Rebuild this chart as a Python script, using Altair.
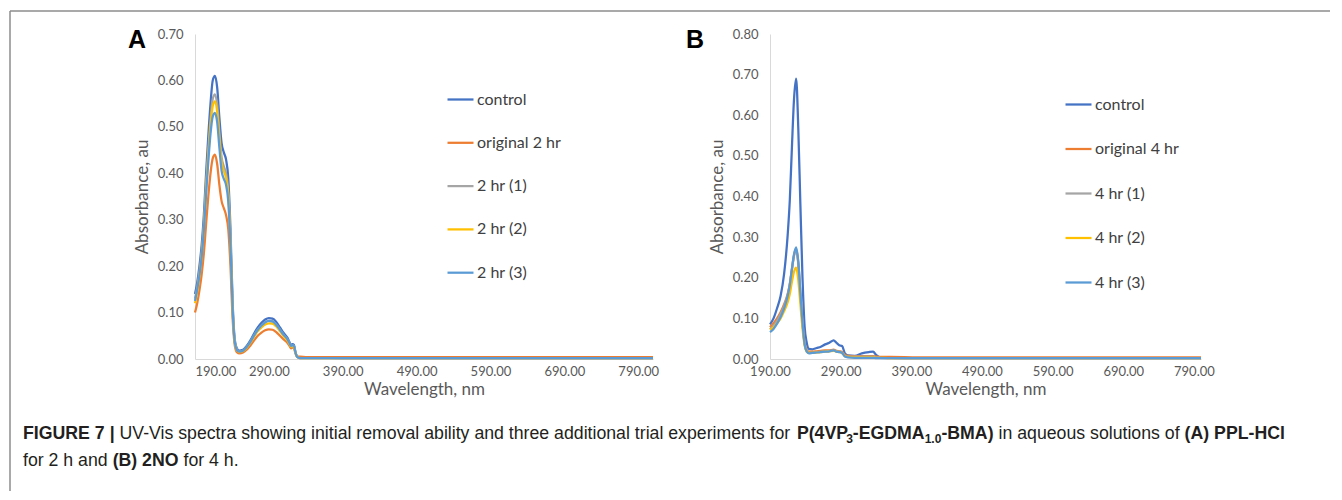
import altair as alt
import pandas as pd

FONT = "Lato"
CAP_FONT = "Liberation Sans"
COLORS = ["#4472C4", "#ED7D31", "#A5A5A5", "#FFC000", "#5B9BD5"]
X_TICKS = [190, 290, 390, 490, 590, 690, 790]

# ---------------- Panel A (PPL-HCl, 2 h) ----------------
NAMES_A = ["control", "original 2 hr", "2 hr (1)", "2 hr (2)", "2 hr (3)"]
WL_A = [190, 193, 196, 199, 202, 205, 208, 211, 214, 217, 220, 223, 226, 229, 232, 235, 238, 241, 244, 247, 250,
        255, 260, 265, 270, 275, 280, 285, 290, 295, 300, 305, 310, 315,
        318, 320, 322, 324, 326, 328, 332, 340,
        400, 500, 600, 700, 810]
A_CONTROL = [0.140, 0.165, 0.200, 0.245, 0.310, 0.400, 0.480, 0.550, 0.600, 0.610, 0.585, 0.520, 0.465, 0.445, 0.430, 0.390, 0.280, 0.120, 0.040, 0.022, 0.018,
             0.020, 0.028, 0.040, 0.055, 0.068, 0.078, 0.085, 0.088, 0.087, 0.080, 0.068, 0.056, 0.046,
             0.036, 0.030, 0.032, 0.030, 0.015, 0.006, 0.003, 0.003,
             0.002, 0.002, 0.002, 0.002, 0.002]
A_ORIG = [0.100, 0.120, 0.148, 0.182, 0.228, 0.290, 0.350, 0.400, 0.432, 0.440, 0.420, 0.375, 0.340, 0.325, 0.310, 0.280, 0.200, 0.085, 0.028, 0.014, 0.012,
          0.014, 0.020, 0.029, 0.040, 0.050, 0.057, 0.062, 0.064, 0.063, 0.058, 0.050, 0.042, 0.035,
          0.028, 0.023, 0.025, 0.023, 0.012, 0.006, 0.005, 0.004,
          0.004, 0.004, 0.004, 0.004, 0.004]
A_T1 = [0.130, 0.155, 0.188, 0.230, 0.290, 0.375, 0.450, 0.515, 0.560, 0.570, 0.548, 0.488, 0.435, 0.415, 0.400, 0.362, 0.260, 0.110, 0.036, 0.020, 0.016,
        0.018, 0.026, 0.037, 0.051, 0.063, 0.072, 0.079, 0.082, 0.081, 0.074, 0.063, 0.052, 0.043,
        0.034, 0.028, 0.030, 0.028, 0.014, 0.005, 0.002, 0.002,
        0.002, 0.002, 0.002, 0.002, 0.002]
A_T2 = [0.120, 0.145, 0.178, 0.220, 0.280, 0.365, 0.438, 0.502, 0.545, 0.555, 0.533, 0.475, 0.423, 0.405, 0.390, 0.353, 0.252, 0.105, 0.034, 0.018, 0.015,
        0.017, 0.024, 0.035, 0.048, 0.060, 0.068, 0.074, 0.077, 0.076, 0.070, 0.060, 0.049, 0.040,
        0.032, 0.026, 0.028, 0.026, 0.013, 0.005, 0.002, 0.002,
        0.002, 0.002, 0.002, 0.002, 0.002]
A_T3 = [0.125, 0.150, 0.180, 0.220, 0.278, 0.355, 0.425, 0.485, 0.522, 0.530, 0.510, 0.455, 0.405, 0.388, 0.375, 0.340, 0.245, 0.105, 0.035, 0.019, 0.016,
        0.018, 0.026, 0.037, 0.051, 0.063, 0.072, 0.079, 0.082, 0.081, 0.074, 0.063, 0.052, 0.043,
        0.034, 0.028, 0.030, 0.028, 0.014, 0.005, 0.002, 0.002,
        0.002, 0.002, 0.002, 0.002, 0.002]

# ---------------- Panel B (2NO, 4 h) ----------------
NAMES_B = ["control", "original 4 hr", "4 hr (1)", "4 hr (2)", "4 hr (3)"]
WL_B = [190, 195, 200, 205, 210, 215, 218, 221, 224, 227, 230, 233, 236, 239, 242, 245,
        250, 256, 262, 268, 274, 280, 284, 288, 292, 296, 300,
        310, 320, 330, 336, 340, 346, 360,
        400, 500, 600, 700, 800]
B_CONTROL = [0.085, 0.100, 0.125, 0.155, 0.210, 0.305, 0.390, 0.520, 0.640, 0.690, 0.570, 0.380, 0.200, 0.080, 0.040, 0.025,
             0.024, 0.027, 0.030, 0.036, 0.040, 0.046, 0.040, 0.034, 0.032, 0.014, 0.009,
             0.008, 0.014, 0.017, 0.018, 0.010, 0.004, 0.003,
             0.002, 0.002, 0.002, 0.002, 0.002]
B_ORIG = [0.078, 0.088, 0.100, 0.115, 0.135, 0.160, 0.185, 0.220, 0.255, 0.270, 0.235, 0.160, 0.090, 0.040, 0.022, 0.018,
          0.018, 0.019, 0.020, 0.021, 0.021, 0.023, 0.020, 0.019, 0.017, 0.010, 0.008,
          0.007, 0.007, 0.007, 0.007, 0.006, 0.005, 0.005,
          0.004, 0.004, 0.004, 0.004, 0.004]
B_T1 = [0.073, 0.082, 0.094, 0.110, 0.130, 0.158, 0.183, 0.220, 0.255, 0.272, 0.238, 0.162, 0.090, 0.038, 0.020, 0.016,
        0.016, 0.017, 0.018, 0.019, 0.020, 0.022, 0.019, 0.018, 0.016, 0.008, 0.006,
        0.006, 0.006, 0.006, 0.006, 0.004, 0.003, 0.002,
        0.002, 0.002, 0.002, 0.002, 0.002]
B_T2 = [0.072, 0.078, 0.088, 0.100, 0.118, 0.140, 0.160, 0.190, 0.215, 0.225, 0.195, 0.135, 0.075, 0.033, 0.018, 0.015,
        0.015, 0.016, 0.017, 0.018, 0.019, 0.020, 0.018, 0.017, 0.015, 0.007, 0.005,
        0.004, 0.004, 0.004, 0.004, 0.003, 0.003, 0.002,
        0.002, 0.002, 0.002, 0.002, 0.002]
B_T3 = [0.066, 0.074, 0.087, 0.103, 0.125, 0.155, 0.182, 0.222, 0.258, 0.275, 0.240, 0.163, 0.090, 0.036, 0.018, 0.014,
        0.015, 0.016, 0.017, 0.018, 0.019, 0.021, 0.018, 0.017, 0.015, 0.006, 0.004,
        0.003, 0.003, 0.003, 0.003, 0.002, 0.002, 0.002,
        0.002, 0.002, 0.002, 0.002, 0.002]

# ---------------- Caption pieces ----------------
CAP_LINE1 = [("FIGURE 7", "bold", False, " "), ("|", "bold", False, " "),
             ("UV-Vis spectra showing initial removal ability and three additional trial experiments for", "normal", False, " "),
             ("P(4VP", "bold", False, ""), ("3", "bold", True, ""), ("-EGDMA", "bold", False, ""),
             ("1.0", "bold", True, ""), ("-BMA)", "bold", False, " "),
             ("in aqueous solutions of", "normal", False, " "), ("(A) PPL-HCl", "bold", False, "")]
CAP_LINE2 = [("for 2 h and", "normal", False, " "), ("(B) 2NO", "bold", False, " "), ("for 4 h.", "normal", False, "")]

# Arial / Liberation Sans advance widths (1/1000 em), used only to lay the caption text out
W_REG = {" ": 278, "-": 333, ".": 278, "(": 333, ")": 333, "|": 260, "U": 722, "V": 667, "A": 667, "B": 667,
         "a": 556, "b": 556, "c": 500, "d": 556, "e": 556, "f": 278, "g": 556, "h": 556, "i": 222, "l": 222,
         "m": 833, "n": 556, "o": 556, "p": 556, "q": 556, "r": 333, "s": 500, "t": 278, "u": 556, "v": 500,
         "w": 722, "x": 500, "y": 500}
W_BOLD = {" ": 278, "-": 333, ".": 278, "(": 333, ")": 333, "|": 280, "A": 722, "B": 722, "C": 722, "D": 722,
          "E": 667, "F": 611, "G": 778, "H": 722, "I": 278, "L": 611, "M": 833, "N": 722, "O": 778, "P": 667,
          "R": 722, "U": 722, "l": 278}


def text_w(s, weight, size):
    table = W_BOLD if weight == "bold" else W_REG
    return sum(table.get(c, 556) for c in s) * size / 1000.0


def layout_caption(pieces, size, x0, y0):
    rows, x = [], x0
    for txt, weight, sub, after in pieces:
        fs = size * 0.68 if sub else size
        rows.append({"t": txt, "x": x, "y": y0 + (4 if sub else 0), "w": weight, "fs": fs})
        x += text_w(txt, weight, fs) + text_w(after, weight, size)
    return rows, x - x0


def long_df(wl, names, series):
    rows = []
    for k, (name, vals) in enumerate(zip(names, series)):
        for w, v in zip(wl, vals):
            rows.append({"series": name, "k": k, "wl": w, "abs": v})
    return pd.DataFrame(rows)


def axis_x(flush):
    return alt.Axis(values=X_TICKS, format=".2f", title="Wavelength, nm", labelPadding=6, titlePadding=3,
                    labelFlush=flush)


def axis_y(ymax):
    vals = [round(i * 0.1, 1) for i in range(int(round(ymax * 10)) + 1)]
    return alt.Axis(values=vals, format=".2f", title="Absorbance, au", labelPadding=12, titlePadding=6)


def panel(df, names, ymax, xmax, width, lx, ly, rowpad, flush):
    return alt.Chart(df).mark_line(strokeWidth=2.25, interpolate="monotone").encode(
        x=alt.X("wl:Q", scale=alt.Scale(domain=[190, xmax], nice=False, zero=False), axis=axis_x(flush)),
        y=alt.Y("abs:Q", scale=alt.Scale(domain=[0, ymax], nice=False), axis=axis_y(ymax)),
        color=alt.Color("series:N", scale=alt.Scale(domain=names, range=COLORS), sort=names,
                        legend=alt.Legend(title=None, orient="none", legendX=lx, legendY=ly,
                                          symbolType="stroke", symbolSize=676, symbolStrokeWidth=2.25,
                                          labelFont=FONT, labelFontSize=16, labelColor="#404040",
                                          rowPadding=rowpad, labelOffset=2, padding=0)),
        detail="k:Q",
    ).properties(width=width, height=325)


def letter(ch, x, y):
    return alt.Chart(pd.DataFrame({"t": [ch]})).mark_text(
        font=CAP_FONT, fontWeight="bold", fontSize=25, align="left", baseline="alphabetic", color="#000000"
    ).encode(text="t:N", x=alt.value(x), y=alt.value(y))


df_a = long_df(WL_A, NAMES_A, [A_CONTROL, A_ORIG, A_T1, A_T2, A_T3])
df_b = long_df(WL_B, NAMES_B, [B_CONTROL, B_ORIG, B_T1, B_T2, B_T3])

# caption layout (relative to panel A plot origin)
_, raw_w = layout_caption(CAP_LINE1, 1000, 0, 0)
CAP_SIZE = 1262.0 / raw_w * 1000
rows1, _ = layout_caption(CAP_LINE1, CAP_SIZE, -172, 405)
rows2, _ = layout_caption(CAP_LINE2, CAP_SIZE, -172, 432)
cap_df = pd.DataFrame(rows1 + rows2)

caption_layers = []
for weight in ["normal", "bold"]:
    for fs in sorted(cap_df["fs"].unique()):
        sub = cap_df[(cap_df["w"] == weight) & (cap_df["fs"] == fs)]
        if len(sub) == 0:
            continue
        caption_layers.append(
            alt.Chart(sub).mark_text(font=CAP_FONT, fontWeight=weight, fontSize=float(fs), align="left",
                                     baseline="alphabetic", color="#231F20")
            .encode(text="t:N", x=alt.X("x:Q", scale=None), y=alt.Y("y:Q", scale=None))
        )

frame_top = alt.Chart(pd.DataFrame({"a": [0]})).mark_rule(color="#8C8C8C", strokeWidth=1.5).encode(
    x=alt.value(-185), x2=alt.value(1135), y=alt.value(-23))
frame_left = alt.Chart(pd.DataFrame({"a": [0]})).mark_rule(color="#8C8C8C", strokeWidth=1.5).encode(
    x=alt.value(-185), y=alt.value(-23), y2=alt.value(457))

chart_a = alt.layer(
    panel(df_a, NAMES_A, 0.7, 810, 458, 251, 51, 20.3, True),
    letter("A", -67, 14), frame_top, frame_left, *caption_layers
).resolve_scale(x="independent", y="independent")

chart_b = alt.layer(
    panel(df_b, NAMES_B, 0.8, 800, 431, 294, 56, 21.5, False),
    letter("B", -84, 14)
)

chart = alt.hconcat(chart_a, chart_b, spacing=117, bounds="flush").resolve_scale(
    color="independent"
).resolve_legend(color="independent").properties(
    padding={"left": 1, "top": 2, "right": 0, "bottom": 0}
).configure_view(stroke=None).configure_axis(
    labelFont=FONT, labelFontSize=13, labelColor="#595959",
    titleFont=FONT, titleFontSize=17, titleFontWeight="normal", titleColor="#595959",
    domainColor="#D9D9D9", domainWidth=1, ticks=False, grid=False
)

chart.save("out.html", embed_options={"renderer": "svg", "actions": False})
